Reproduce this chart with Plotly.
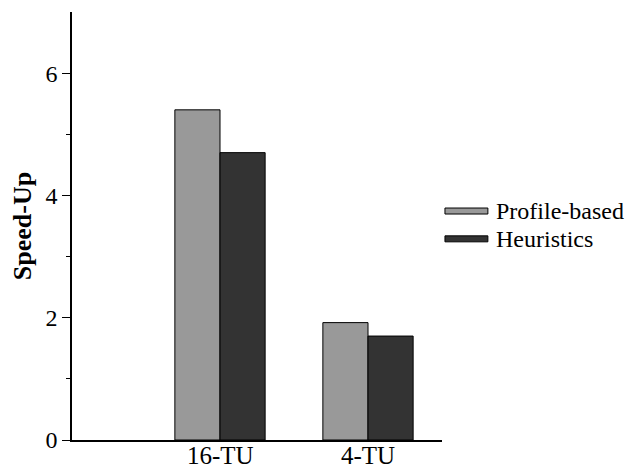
import plotly.graph_objects as go

# Speed-up per thread-unit configuration
categories = ["16-TU", "4-TU"]
positions = [1, 2]
profile_based = [5.4, 1.92]
heuristics = [4.7, 1.7]
series_names = ["Profile-based", "Heuristics"]
series_colors = ["#999999", "#333333"]

FONT = "Liberation Serif"

fig = go.Figure()
for name, vals, col in zip(series_names, [profile_based, heuristics], series_colors):
    fig.add_trace(go.Bar(
        x=positions, y=vals, name=name,
        marker=dict(color=col, line=dict(color="black", width=1)),
        showlegend=False,
    ))

# Category labels placed just under the x axis line
for pos, label in zip(positions, categories):
    fig.add_annotation(text=label, xref="x", yref="paper", x=pos, y=0,
                       xanchor="center", yanchor="top", showarrow=False,
                       font=dict(family=FONT, size=25, color="black"))

# Legend drawn as wide swatches with labels to the right of the plot
legend_y = [0.535, 0.470]
for name, col, yc in zip(series_names, series_colors, legend_y):
    fig.add_shape(type="rect", xref="paper", yref="paper",
                  x0=1.008, x1=1.124, y0=yc - 0.007, y1=yc + 0.007,
                  fillcolor=col, line=dict(color="black", width=1))
    fig.add_annotation(text=name, xref="paper", yref="paper",
                       x=1.14, y=yc, xanchor="left", yanchor="middle",
                       showarrow=False, font=dict(family=FONT, size=24, color="black"))

fig.update_layout(
    width=626, height=469,
    margin=dict(l=72, r=184, t=12, b=29, autoexpand=False),
    paper_bgcolor="white", plot_bgcolor="white",
    barmode="group", bargap=0.39, bargroupgap=0,
    font=dict(family=FONT, color="black"),
    xaxis=dict(
        range=[0, 2.5], showticklabels=False,
        showline=True, linecolor="black", linewidth=1.5, ticks="",
        showgrid=False, zeroline=False, automargin=False,
    ),
    yaxis=dict(
        range=[0, 7], tickmode="array", tickvals=[0, 2, 4, 6],
        showline=True, linecolor="black", linewidth=1.5,
        ticks="outside", ticklen=8, tickwidth=1.2, tickcolor="black",
        minor=dict(tickvals=[1, 3, 5], ticks="outside", ticklen=4, tickwidth=1.2, tickcolor="black"),
        showgrid=False, zeroline=False, automargin=False,
        tickfont=dict(size=24, family=FONT),
        title=dict(text="<b>Speed-Up</b>", font=dict(size=26, family=FONT), standoff=6),
    ),
)

fig.write_html("out.html")
